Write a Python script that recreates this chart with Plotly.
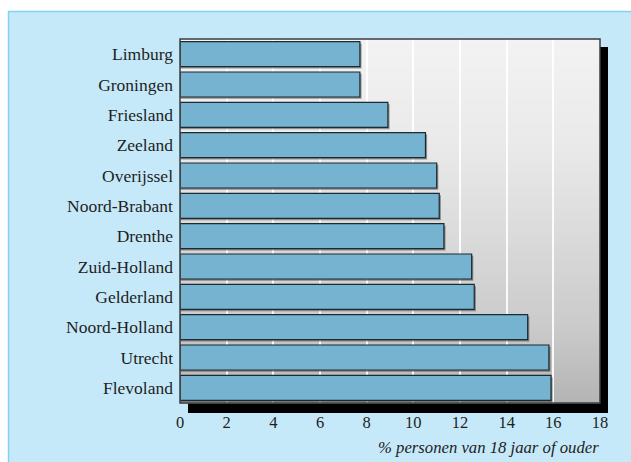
import numpy as np
import plotly.graph_objects as go

# ---- data ----
provinces = ["Limburg", "Groningen", "Friesland", "Zeeland", "Overijssel",
             "Noord-Brabant", "Drenthe", "Zuid-Holland", "Gelderland",
             "Noord-Holland", "Utrecht", "Flevoland"]
values = [7.71, 7.71, 8.91, 10.52, 11.0, 11.11, 11.31, 12.5, 12.61, 14.9, 15.81, 15.9]
x_ticks = [0, 2, 4, 6, 8, 10, 12, 14, 16, 18]
x_title = "% personen van 18 jaar of ouder"

# ---- layout geometry (pixels) ----
W, H = 631, 462
L, R, T, B = 180, 31, 39, 59
PW, PH = W - L - R, H - T - B


def px(x):
    return (x - L) / PW


def py(y):
    return (H - B - y) / PH


shapes = []
# light blue panel (extends past the right and bottom edges)
shapes.append(dict(type="rect", xref="paper", yref="paper", layer="below",
                   x0=px(8), x1=px(700), y0=py(600), y1=py(11),
                   fillcolor="#c6e9f9", line=dict(width=0)))
# its left and top borders
shapes.append(dict(type="line", xref="paper", yref="paper", layer="below",
                   x0=px(8.5), x1=px(8.5), y0=py(600), y1=py(11),
                   line=dict(color="#7fd4f4", width=1.5)))
shapes.append(dict(type="line", xref="paper", yref="paper", layer="below",
                   x0=px(8), x1=px(700), y0=py(11.5), y1=py(11.5),
                   line=dict(color="#7fd4f4", width=1.5)))
# black drop shadow of the plot area
shapes.append(dict(type="rect", xref="paper", yref="paper", layer="below",
                   x0=px(188), x1=px(608), y0=py(413), y1=py(47),
                   fillcolor="black", line=dict(width=0)))
# vertical grey gradient of the plot area
stops_y = [39, 150, 250, 330, 403]
stops_c = [243, 233, 216, 202, 180]
n = 91
edges = np.linspace(39, 403, n + 1)
for i in range(n):
    mid = 0.5 * (edges[i] + edges[i + 1])
    g = int(round(np.interp(mid, stops_y, stops_c)))
    shapes.append(dict(type="rect", xref="paper", yref="paper", layer="below",
                       x0=px(180), x1=px(600), y0=py(edges[i + 1] + 0.6), y1=py(edges[i]),
                       fillcolor=f"rgb({g},{g},{g})", line=dict(width=0)))
# frame of the plot area
shapes.append(dict(type="rect", xref="paper", yref="paper", layer="above",
                   x0=0, x1=1, y0=0, y1=1,
                   fillcolor="rgba(0,0,0,0)", line=dict(color="#3c3c3c", width=1.5)))

fig = go.Figure()
# small shadow under each bar
fig.add_trace(go.Bar(
    y=provinces, x=[v + 0.07 for v in values], orientation="h",
    width=0.825, offset=-0.4125 + 0.06,
    marker=dict(color="rgba(70,70,70,0.55)", line=dict(width=0)),
    hoverinfo="skip", showlegend=False))
fig.add_trace(go.Bar(
    y=provinces, x=values, orientation="h",
    width=0.825, offset=-0.4125,
    marker=dict(color="#76b3d0", line=dict(color="#1b2b33", width=1.2)),
    showlegend=False))

fig.update_layout(
    width=W, height=H,
    margin=dict(l=L, r=R, t=T, b=B, pad=0),
    paper_bgcolor="white", plot_bgcolor="rgba(0,0,0,0)",
    barmode="overlay",
    font=dict(family="Liberation Serif, serif", size=17, color="#1e1e1e"),
    shapes=shapes,
    xaxis=dict(range=[0, 18], tickvals=x_ticks, ticktext=[str(t) for t in x_ticks],
               showgrid=True, gridcolor="rgba(255,255,255,0.9)", gridwidth=1.5,
               zeroline=False, showline=False, ticks="", ticklabelstandoff=7,
               tickfont=dict(size=16.5), fixedrange=True),
    yaxis=dict(categoryorder="array", categoryarray=provinces, autorange="reversed",
               showgrid=False, zeroline=False, showline=False, ticks="",
               ticklabelstandoff=6, tickfont=dict(size=17.5)),
    annotations=[dict(text=x_title, xref="paper", yref="paper",
                      x=px(601), y=py(447.5), xanchor="right", yanchor="middle",
                      showarrow=False,
                      font=dict(size=16.7, style="italic", color="#222222"))],
)

fig.write_html("out.html")
